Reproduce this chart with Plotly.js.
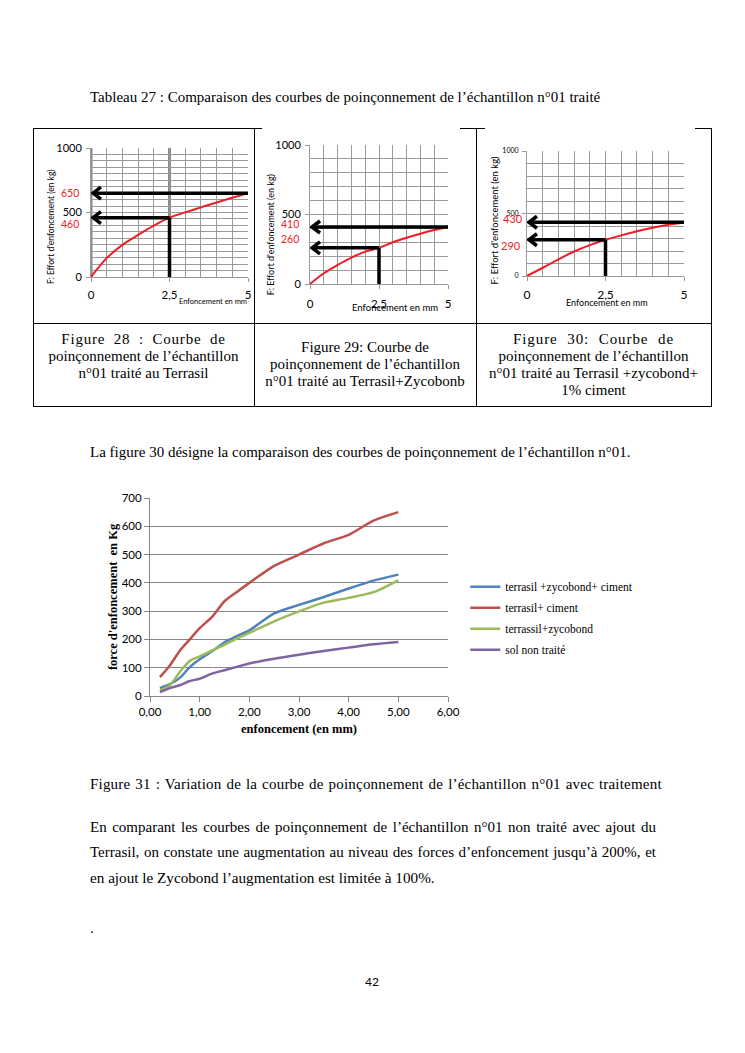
<!DOCTYPE html>
<html><head><meta charset="utf-8">
<script src="https://cdn.plot.ly/plotly-3.0.1.min.js"></script>
<style>
body{margin:0;background:#fff;}
#page{position:relative;width:745px;height:1053px;overflow:hidden;background:#fff;font-family:"Liberation Serif","Times New Roman",serif;color:#000;}
.t{position:absolute;white-space:nowrap;font-size:15px;line-height:16px;}
.ln{position:absolute;background:#000;}
.cap{position:absolute;text-align:center;font-size:15px;line-height:17px;white-space:nowrap;}
.plot{position:absolute;}
.jl{position:absolute;left:90px;width:566px;font-size:15px;line-height:25px;text-align:justify;text-align-last:justify;white-space:nowrap;}
</style></head><body><div id="page">

<div class="t" style="left:90px;top:89px;">Tableau 27 : Comparaison des courbes de poinçonnement de l’échantillon n°01 traité</div>

<div class="ln" style="left:33px;top:128px;width:679px;height:1px;"></div>
<div class="ln" style="left:33px;top:323px;width:679px;height:1px;"></div>
<div class="ln" style="left:33px;top:406px;width:679px;height:1px;"></div>
<div class="ln" style="left:33px;top:128px;width:1px;height:279px;"></div>
<div class="ln" style="left:254px;top:128px;width:1px;height:279px;"></div>
<div class="ln" style="left:476px;top:128px;width:1px;height:279px;"></div>
<div class="ln" style="left:711px;top:128px;width:1px;height:279px;"></div>

<div class="cap" style="left:33px;width:221px;top:331px;"><span style="letter-spacing:0.8px;word-spacing:4px;">Figure 28 : Courbe de</span><br>poinçonnement de l’échantillon<br>n°01 traité au Terrasil</div>
<div class="cap" style="left:254px;width:222px;top:339px;">Figure 29: Courbe de<br>poinçonnement de l’échantillon<br>n°01 traité au Terrasil+Zycobonb</div>
<div class="cap" style="left:476px;width:235px;top:331px;"><span style="letter-spacing:0.9px;word-spacing:5px;">Figure 30: Courbe de</span><br>poinçonnement de l’échantillon<br>n°01 traité au Terrasil +zycobond+<br>1% ciment</div>

<div id="mini1" class="plot" style="left:35px;top:130px;"></div>
<div id="mini2" class="plot" style="left:262px;top:126px;"></div>
<div id="mini3" class="plot" style="left:485px;top:126px;"></div>

<div class="t" style="left:90px;top:444px;">La figure 30 désigne la comparaison des courbes de poinçonnement de l’échantillon n°01.</div>

<div id="main" class="plot" style="left:60px;top:480px;"></div>

<div class="t" style="left:90px;top:776px;letter-spacing:0.2px;word-spacing:1px;">Figure 31 : Variation de la courbe de poinçonnement de l’échantillon n°01 avec traitement</div>

<div class="jl" style="top:815px;">En comparant les courbes de poinçonnement de l’échantillon n°01 non traité avec ajout du</div>
<div class="jl" style="top:840px;">Terrasil, on constate une augmentation au niveau des forces d’enfoncement jusqu’à 200%, et</div>
<div class="t" style="left:90px;top:870px;font-size:15.2px;">en ajout le Zycobond l’augmentation est limitée à 100%.</div>
<div class="t" style="left:90px;top:920px;">.</div>
<div class="t" style="left:352px;width:40px;text-align:center;top:974px;font-family:Lato,'Liberation Sans',sans-serif;font-size:12px;">42</div>

</div>
<script>
// ---------- main chart data ----------
const xMm = [0.2, 0.4, 0.6, 0.8, 1.0, 1.25, 1.5, 1.75, 2.0, 2.5, 3.0, 3.5, 4.0, 4.5, 5.0];
const seriesNames = ['terrasil +zycobond+ ciment', 'terrasil+ ciment', 'terrassil+zycobond', 'sol non traité'];
const terrasilZycobondCiment = [28, 42, 64, 102, 130, 158, 190, 212, 232, 292, 322, 350, 380, 408, 429];
const terrasilCiment = [67, 108, 160, 200, 240, 280, 335, 368, 400, 460, 500, 540, 570, 620, 650];
const terrassilZycobond = [20, 38, 85, 124, 140, 161, 181, 203, 223, 264, 299, 330, 347, 367, 409];
const solNonTraite = [14, 28, 38, 53, 61, 79, 91, 103, 115, 132, 146, 159, 171, 183, 191];
const mainXTicks = [0, 1, 2, 3, 4, 5, 6];

// ---------- small charts data ----------
const miniX = [0, 0.5, 1, 1.5, 2, 2.5, 3, 3.5, 4, 4.5, 5];
const fig28Effort = [0, 146, 249, 326, 398, 460, 501, 540, 578, 614, 650];
const fig29Effort = [0, 77, 137, 190, 233, 260, 300, 333, 362, 388, 410];
const fig30Effort = [0, 66, 133, 196, 247, 290, 325, 358, 386, 410, 428];
const fig28Marks = [650, 460];
const fig29Marks = [410, 260];
const fig30Marks = [430, 290];
const miniXTicks = [0, 2.5, 5];
const miniYTicks = [0, 500, 1000];

const cfg = {staticPlot: true, displayModeBar: false};
const calibri = 'Lato, "Liberation Sans", sans-serif';
const times = '"Liberation Serif", "Times New Roman", serif';

// ---------- main chart ----------
const colors = ['#4F81BD', '#C0504D', '#9BBB59', '#8064A2'];
const allSeries = [terrasilZycobondCiment, terrasilCiment, terrassilZycobond, solNonTraite];
const mainTraces = allSeries.map((ys, i) => ({
  x: xMm, y: ys, type: 'scatter', mode: 'lines', name: seriesNames[i],
  legendgroup: 'g' + i,
  line: {color: colors[i], width: 2.5, shape: 'spline', smoothing: 0.7},
  hoverinfo: 'skip'
}));
const gridGray = '#868686';
Plotly.newPlot('main', mainTraces, {
  width: 640, height: 270,
  margin: {l: 90, r: 252.3, t: 17.7, b: 54.3},
  paper_bgcolor: 'rgba(0,0,0,0)', plot_bgcolor: 'rgba(0,0,0,0)',
  separators: ', ',
  font: {family: calibri, color: '#000'},
  xaxis: {range: [0, 6], tickvals: mainXTicks, tickformat: '.2f', showgrid: false, zeroline: false,
    showline: true, linecolor: gridGray, linewidth: 1, ticks: 'outside', ticklen: 5, tickcolor: gridGray,
    tickfont: {family: calibri, size: 11.5, color: '#000'},
    title: {text: '<b>enfoncement (en mm)</b>', font: {family: times, size: 12.5, color: '#000'}, standoff: 7}},
  yaxis: {range: [0, 700], dtick: 100, showgrid: true, gridcolor: gridGray, gridwidth: 1, zeroline: false,
    showline: true, linecolor: gridGray, linewidth: 1, ticks: 'outside', ticklen: 5, tickcolor: gridGray,
    tickfont: {family: calibri, size: 11.5, color: '#000'},
    title: {text: '<b>force d\'enfoncement  en Kg</b>', font: {family: times, size: 12.5, color: '#000'}, standoff: 1}},
  showlegend: true,
  legend: {x: 1.058, xanchor: 'left', y: 0.625, yanchor: 'top', bgcolor: 'rgba(0,0,0,0)',
    font: {family: times, size: 11.5, color: '#000'}, tracegroupgap: 2}
}, cfg);

// ---------- small charts ----------
function mini(id, geom, effort, marks, opt) {
  const m = geom.m;
  const pw = geom.w - m.l - m.r, ph = geom.h - m.t - m.b;
  const ux = 5 / pw, uy = 1000 / ph;
  const tipX = 2 * ux, dx = 8 * ux, dy = 6 * uy;
  const ends = [miniXTicks[2], miniXTicks[1]];
  const blk = {color: '#000', width: 3.5};
  const traces = [{x: miniX, y: effort, mode: 'lines', line: {color: '#ee1c24', width: 2, shape: 'spline'}, hoverinfo: 'skip'}];
  marks.forEach((v, i) => {
    traces.push({x: [ends[i], tipX], y: [v, v], mode: 'lines', line: blk, hoverinfo: 'skip'});
    traces.push({x: [tipX + dx, tipX, tipX + dx], y: [v + dy, v, v - dy], mode: 'lines', line: blk, hoverinfo: 'skip'});
  });
  traces.push({x: [miniXTicks[1], miniXTicks[1]], y: [marks[1], -4 * uy], mode: 'lines', line: blk, cliponaxis: false, hoverinfo: 'skip'});
  const g = '#9a9a9a';
  const ann = marks.map((v, i) => ({
    xref: 'paper', x: 0, xanchor: 'right', xshift: opt.redShiftX[i], yref: 'y', y: v, yanchor: 'middle', yshift: opt.redShiftY[i],
    text: String(v), showarrow: false, font: {family: calibri, size: opt.redSize, color: '#ee1c24'}
  }));
  ann.push({xref: 'paper', x: opt.xtX, xanchor: 'center', yref: 'paper', y: 0, yanchor: 'middle', yshift: opt.xtY, text: 'Enfoncement en mm',
    showarrow: false, font: {family: calibri, size: opt.xtSize, color: '#000'}});
  ann.push({xref: 'paper', x: 0, xanchor: 'center', xshift: opt.ytX, yref: 'paper', y: opt.ytY, yanchor: 'middle', textangle: -90,
    text: 'F: Effort d\'enfoncement (en kg)', showarrow: false, font: {family: calibri, size: opt.ytSize, color: '#000'}});
  const shapes = (opt.thick || []).map(v => ({type: 'line', xref: 'x', yref: 'y', x0: v, x1: v, y0: 0, y1: 1000,
    line: {color: '#8a8a8a', width: 3}, layer: 'below'}));
  Plotly.newPlot(id, traces, {
    width: geom.w, height: geom.h, margin: m, paper_bgcolor: '#fff', plot_bgcolor: '#fff', showlegend: false,
    separators: ', ',
    xaxis: {range: [0, 5], tickvals: miniXTicks, showgrid: true, gridcolor: g, gridwidth: 1, zeroline: false,
      minor: {tickmode: 'linear', tick0: 0, dtick: 0.5, showgrid: true, gridcolor: g, gridwidth: 1},
      showline: true, linecolor: g, ticks: 'outside', ticklen: 4, tickcolor: g, ticklabelstandoff: opt.xso,
      tickfont: {family: calibri, size: opt.xtf, color: '#000'}},
    yaxis: {range: [0, 1000], tickvals: miniYTicks, showgrid: true, gridcolor: g, gridwidth: 1, zeroline: false,
      minor: {tickmode: 'linear', tick0: 0, dtick: opt.ydt, showgrid: true, gridcolor: g, gridwidth: 1},
      showline: true, linecolor: g, ticks: 'outside', ticklen: 4, tickcolor: g, ticklabelstandoff: 2,
      tickfont: {family: calibri, size: opt.ytf, color: '#000'}},
    annotations: ann, shapes: shapes
  }, cfg);
}

mini('mini1', {w: 217, h: 190, m: {l: 55.7, r: 3.7, t: 17.7, b: 42.7}}, fig28Effort, fig28Marks,
  {redShiftX: [-10, -10], redShiftY: [0, -6], redSize: 10.5, xtX: 0.776, xtY: -24, xtSize: 7.5,
   ytX: -40.7, ytY: 0.39, ytSize: 8.5, xso: 3, xtf: 11.5, ytf: 11, ydt: 50, thick: [0, 2.5]});
mini('mini2', {w: 198, h: 195, m: {l: 48, r: 12.3, t: 19, b: 37}}, fig29Effort, fig29Marks,
  {redShiftX: [-9, -9], redShiftY: [3, 9], redSize: 10.5, xtX: 0.617, xtY: -23, xtSize: 9.5,
   ytX: -40, ytY: 0.35, ytSize: 9, xso: 5, xtf: 11.5, ytf: 11, ydt: 100});
mini('mini3', {w: 210, h: 195, m: {l: 41.7, r: 10.7, t: 24.7, b: 45}}, fig30Effort, fig30Marks,
  {redShiftX: [-2, -4], redShiftY: [4, -6], redSize: 11, xtX: 0.51, xtY: -26, xtSize: 9,
   ytX: -32.7, ytY: 0.447, ytSize: 9.5, xso: 4, xtf: 12, ytf: 7, ydt: 100});
</script>
</body></html>
